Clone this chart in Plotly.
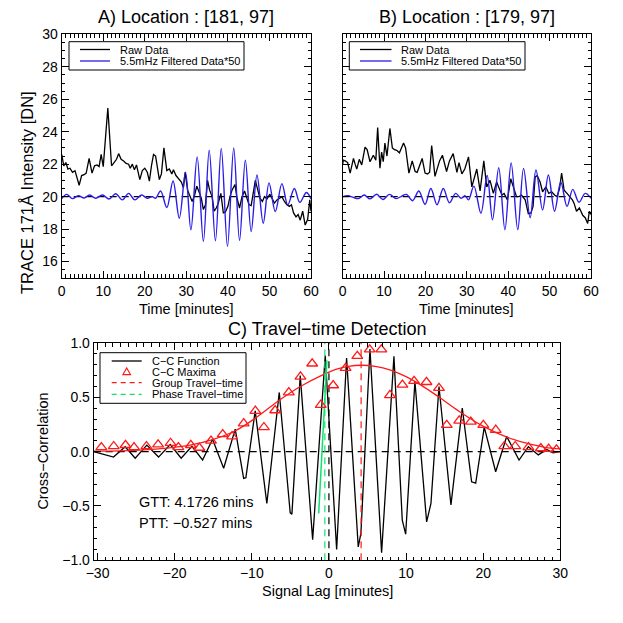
import plotly.graph_objects as go

# ---------------- Panel A data ----------------
a_raw_t = [0.0, 0.5, 1.0, 1.5, 2.0, 2.6, 3.2, 3.7, 4.2, 4.8, 5.4, 5.9, 6.6, 7.3, 7.9, 8.5, 9.0, 9.5, 10.0,
           11.1, 12.0, 12.6, 13.2, 13.7, 14.3, 14.9, 15.5, 16.1, 16.5, 17.0, 17.5, 18.0, 18.8, 19.4, 20.0,
           20.6, 21.1, 21.6, 22.1, 22.6, 23.5, 24.0, 24.6, 25.3, 25.9, 26.5, 26.9, 27.5, 28.2, 28.8, 29.3,
           29.7, 30.3, 31.0, 31.4, 32.0, 32.5, 33.2, 33.6, 34.1, 34.6, 35.1, 35.6, 36.2, 36.7, 37.2, 37.7,
           38.3, 38.9, 39.4, 40.0, 40.5, 41.0, 41.7, 42.2, 42.8, 43.4, 44.0, 44.6, 45.1, 45.6, 46.1, 46.6,
           47.2, 47.7, 48.3, 48.8, 49.4, 50.1, 50.6, 51.2, 51.8, 52.4, 53.0, 53.6, 54.2, 54.8, 55.3, 55.8,
           56.4, 56.9, 57.4, 58.0, 58.6, 59.2, 59.7, 60.0]
a_raw_v = [22.6, 21.9, 22.1, 21.7, 21.75, 21.5, 21.6, 21.2, 20.7, 21.3, 21.35, 21.45, 22.35, 21.45, 21.9, 21.95,
           21.85, 22.6, 21.85, 25.45, 21.9, 22.1, 22.3, 22.65, 22.3, 22.2, 22.05, 22.0, 21.75, 22.0, 21.65,
           21.95, 21.05, 21.6, 21.75, 21.5, 20.95, 21.9, 22.6, 22.5, 21.05, 21.4, 23.0, 21.6, 21.7, 21.4,
           21.65, 21.3, 21.05, 20.9, 20.55, 21.5, 20.4, 19.9, 19.7, 20.1, 20.65, 20.2, 19.9, 19.2, 19.5,
           21.0, 20.4, 20.0, 19.1, 19.3, 19.6, 20.2, 19.0, 19.05, 19.4, 20.0, 20.4, 20.75, 19.9, 19.3, 20.0,
           20.35, 19.8, 19.5, 19.45, 20.3, 21.0, 20.4, 19.9, 19.7, 20.0, 19.85, 20.15, 19.9, 19.6, 19.8,
           19.9, 20.0, 19.7, 19.5, 19.4, 19.5, 19.0, 18.75, 18.9, 18.55, 19.1, 18.25, 18.6, 19.8, 19.1]

a_filt_t = [0.0, 1.2, 2.6, 4.0, 5.4, 6.7, 8.2, 9.8, 11.4, 13.0, 14.6, 16.1, 17.6, 19.2, 20.6, 21.8, 22.6,
            23.8, 25.3, 26.8, 28.3, 29.8, 31.1, 32.6, 34.1, 35.5, 37.0, 38.4, 39.9, 41.4, 42.8, 44.2, 45.6,
            47.0, 48.5, 49.9, 51.4, 53.0, 54.4, 56.0, 57.3, 58.9, 60.0]
a_filt_v = [19.88, 20.14, 19.88, 20.06, 19.92, 20.1, 19.9, 20.1, 19.85, 20.18, 19.8, 20.2, 19.8, 20.1, 19.9,
            20.0, 19.9, 20.35, 19.33, 20.96, 18.67, 21.5, 17.95, 22.45, 17.24, 22.86, 17.28, 22.97, 16.93,
            23.0, 17.3, 22.25, 17.85, 21.33, 18.36, 20.85, 19.08, 20.8, 19.49, 20.5, 19.65, 20.25, 19.85]

# ---------------- Panel B data ----------------
b_raw_t = [0.0, 0.15, 0.6, 1.2, 1.8, 2.6, 3.0, 3.4, 4.0, 4.6, 5.4, 5.9, 6.6, 7.4, 8.0, 8.45, 9.0, 9.4, 9.8,
           10.2, 10.7, 11.4, 12.0, 12.5, 13.05, 13.7, 14.2, 14.7, 15.2, 16.0, 16.8, 17.5, 18.0, 18.6, 19.2,
           19.9, 20.5, 21.0, 21.5, 22.3, 22.9, 23.4, 24.1, 24.6, 25.1, 25.8, 26.7, 27.2, 27.6, 28.1, 28.8,
           29.5, 30.4, 31.2, 31.8, 32.4, 33.2, 34.1, 34.8, 35.6, 36.4, 37.2, 38.0, 38.5, 39.0, 39.8, 40.6,
           41.3, 42.0, 42.6, 43.2, 44.1, 44.85, 45.5, 46.0, 46.5, 47.0, 47.7, 48.3, 49.1, 49.8, 50.5, 51.2,
           51.8, 52.4, 52.9, 53.5, 54.2, 54.9, 55.5, 55.9, 56.5, 57.2, 58.0, 58.6, 59.2, 59.6, 60.0]
b_raw_v = [22.0, 22.25, 22.2, 22.1, 21.45, 22.35, 22.0, 21.7, 22.3, 21.95, 23.05, 22.9, 22.15, 22.55, 22.25,
           24.25, 21.75, 22.75, 22.15, 23.3, 22.5, 24.2, 23.0, 22.9, 22.85, 22.7, 23.0, 23.3, 23.0, 21.45,
           22.2, 21.55, 21.5, 22.0, 22.35, 21.45, 21.4, 21.5, 23.15, 21.25, 21.8, 22.2, 22.55, 22.0, 21.55,
           22.2, 22.65, 22.0, 21.5, 22.1, 21.4, 21.7, 22.45, 20.6, 21.2, 21.7, 20.35, 22.2, 20.6, 21.0, 20.2,
           20.9, 20.4, 20.1, 20.2, 19.8, 21.1, 20.5, 20.0, 20.0, 20.1, 19.8, 18.95, 19.0, 19.4, 21.2, 21.3,
           20.9, 20.3, 20.6, 20.2, 20.3, 20.1, 20.0, 20.5, 21.45, 20.4, 20.2, 20.0, 19.8, 19.6, 19.1, 19.3,
           18.85, 18.7, 18.35, 19.1, 18.9]

b_filt_t = [0.0, 1.3, 2.4, 3.8, 5.2, 6.6, 8.2, 9.7, 11.3, 12.9, 14.2, 15.4, 16.9, 18.4, 19.9, 21.3, 22.8,
            24.3, 25.8, 27.3, 28.6, 29.6, 30.4, 31.7, 33.4, 34.9, 36.2, 37.7, 39.2, 40.7, 42.3, 43.7, 45.3,
            46.7, 48.3, 49.7, 51.2, 52.7, 54.2, 55.6, 57.1, 58.6, 60.0]
b_filt_v = [20.0, 20.05, 19.97, 19.88, 20.1, 19.86, 20.15, 19.82, 20.14, 19.88, 20.02, 20.14, 19.75, 20.35,
            19.53, 20.5, 19.5, 20.5, 19.62, 20.2, 19.9, 20.05, 19.8, 20.65, 18.98, 21.3, 18.57, 21.78, 17.96,
            22.07, 17.96, 21.74, 18.7, 21.64, 19.18, 21.33, 19.1, 20.9, 19.4, 20.45, 19.65, 20.2, 19.9]

# ---------------- Panel C data ----------------
cc_lag = [-30.5, -27.93, -26.42, -25.12, -23.61, -22.09, -20.58, -19.16, -17.77, -16.38, -15.09, -13.65,
          -12.15, -11.06, -10.77, -9.56, -8.05, -6.44, -5.02, -4.80, -3.72, -2.11, -0.48, 1.00, 2.29, 3.80,
          4.15, 5.32, 6.83, 8.43, 9.51, 9.95, 11.15, 12.67, 13.23, 14.27, 15.82, 17.29, 18.50, 19.03, 20.14,
          21.62, 23.05, 24.65, 25.86, 27.15, 28.24, 29.06, 30.0]
cc_val = [0.0, -0.05, 0.045, -0.06, 0.06, -0.05, 0.065, -0.06, 0.05, -0.077, 0.115, -0.153, 0.207, -0.246,
          -0.24, 0.376, -0.477, 0.545, -0.563, -0.575, 0.70, -0.81, 0.884, -0.90, 0.862, -0.877, -0.75, 0.945,
          -0.93, 0.877, -0.63, -0.76, 0.646, -0.646, -0.477, 0.60, -0.49, 0.40, -0.277, -0.29, 0.225, -0.185,
          0.14, -0.077, 0.046, -0.03, 0.02, -0.01, 0.0]

max_lag = [-29.51, -27.90, -26.38, -25.27, -23.66, -22.15, -20.53, -19.52, -17.91, -16.80, -15.29, -13.77,
           -12.56, -11.05, -9.54, -8.43, -6.97, -5.20, -3.69, -2.17, -1.06, 0.55, 2.16, 3.68, 5.29, 6.80,
           7.91, 9.53, 11.04, 12.65, 14.27, 15.28, 16.89, 18.40, 20.02, 21.63, 22.74, 24.15, 25.87, 27.48,
           28.49, 29.50]
max_val = [0.04, 0.05, 0.06, 0.04, 0.05, 0.065, 0.08, 0.04, 0.06, 0.035, 0.10, 0.16, 0.14, 0.26, 0.375,
           0.225, 0.38, 0.545, 0.69, 0.81, 0.43, 0.61, 0.77, 0.88, 0.94, 0.94, 0.52, 0.615, 0.65, 0.64,
           0.585, 0.245, 0.285, 0.275, 0.245, 0.20, 0.05, 0.05, 0.04, 0.03, 0.025, 0.02]

env_lag = [-30.5, -27, -24, -21, -18, -15.2, -12.2, -9.5, -6.3, -3.7, -1, 1, 2.5, 4.2, 6, 8, 10, 12, 14.3,
           16.9, 20.1, 23, 25.5, 28, 30]
env_val = [0.005, 0.008, 0.016, 0.033, 0.06, 0.108, 0.19, 0.31, 0.48, 0.60, 0.70, 0.76, 0.785, 0.795, 0.785,
           0.75, 0.69, 0.61, 0.50, 0.37, 0.23, 0.135, 0.08, 0.04, 0.025]

fit_lag = [-1.33, -0.81, -0.26]
fit_val = [-0.57, 0.14, 0.84]

GTT = 4.1726
PTT = -0.527

legend_ab = ["Raw Data", "5.5mHz Filtered Data*50"]
legend_c = ["C−C Function", "C−C Maxima", "Group Travel−time", "Phase Travel−time"]

BLACK = "#000000"
BLUE = "#2a1ce8"
RED = "#ff1a1a"
GREEN = "#10e070"
DASH = "7px,5px"
FONT = "Liberation Sans, Arial, Helvetica, sans-serif"

fig = go.Figure()

# Panel A
fig.add_trace(go.Scatter(x=[0, 56], y=[20, 20], mode="lines", line=dict(color=BLACK, width=1.2, dash=DASH),
                         xaxis="x", yaxis="y", hoverinfo="skip"))
fig.add_trace(go.Scatter(x=a_raw_t, y=a_raw_v, mode="lines", name=legend_ab[0], line=dict(color=BLACK, width=1.3),
                         xaxis="x", yaxis="y"))
fig.add_trace(go.Scatter(x=a_filt_t, y=a_filt_v, mode="lines", name=legend_ab[1],
                         line=dict(color=BLUE, width=1.4, shape="spline", smoothing=1.0),
                         xaxis="x", yaxis="y"))
# Panel B
fig.add_trace(go.Scatter(x=[0, 54], y=[20, 20], mode="lines", line=dict(color=BLACK, width=1.2, dash=DASH),
                         xaxis="x2", yaxis="y2", hoverinfo="skip"))
fig.add_trace(go.Scatter(x=b_raw_t, y=b_raw_v, mode="lines", name=legend_ab[0], line=dict(color=BLACK, width=1.3),
                         xaxis="x2", yaxis="y2"))
fig.add_trace(go.Scatter(x=b_filt_t, y=b_filt_v, mode="lines", name=legend_ab[1],
                         line=dict(color=BLUE, width=1.4, shape="spline", smoothing=1.0),
                         xaxis="x2", yaxis="y2"))
# Panel C
fig.add_trace(go.Scatter(x=[-30.5, 30], y=[0, 0], mode="lines", line=dict(color=BLACK, width=1.2, dash=DASH),
                         xaxis="x3", yaxis="y3", hoverinfo="skip"))
fig.add_trace(go.Scatter(x=[0, 0], y=[-1, 1], mode="lines", line=dict(color=BLACK, width=1.2, dash=DASH),
                         xaxis="x3", yaxis="y3", hoverinfo="skip"))
fig.add_trace(go.Scatter(x=cc_lag, y=cc_val, mode="lines", name=legend_c[0],
                         line=dict(color=BLACK, width=1.3), xaxis="x3", yaxis="y3"))
fig.add_trace(go.Scatter(x=env_lag, y=env_val, mode="lines", line=dict(color=RED, width=1.3, shape="spline"),
                         xaxis="x3", yaxis="y3"))
fig.add_trace(go.Scatter(x=fit_lag, y=fit_val, mode="lines", line=dict(color=GREEN, width=1.5),
                         xaxis="x3", yaxis="y3"))
fig.add_trace(go.Scatter(x=max_lag, y=max_val, mode="markers", name=legend_c[1],
                         marker=dict(symbol="triangle-up-open", size=9.5, color=RED, line=dict(width=1.3, color=RED)),
                         xaxis="x3", yaxis="y3"))
fig.add_trace(go.Scatter(x=[GTT, GTT], y=[-1, 1], mode="lines", name=legend_c[2],
                         line=dict(color=RED, width=1.2, dash=DASH), xaxis="x3", yaxis="y3"))
fig.add_trace(go.Scatter(x=[PTT, PTT], y=[-1, 1], mode="lines", name=legend_c[3],
                         line=dict(color=GREEN, width=1.2, dash=DASH), xaxis="x3", yaxis="y3"))

# The page body has an 8px margin, so the figure is offset by (8, 8) on screen.
OFF = 8.0
W = H = 615.0


def px(x):
    return (x - OFF) / W


def py(y):
    return 1 - (y - OFF) / H


axis_common = dict(showline=True, linecolor=BLACK, linewidth=1, mirror="allticks", ticks="inside",
                   ticklen=7, tickwidth=1, tickcolor=BLACK, showgrid=False, zeroline=False,
                   tickfont=dict(family=FONT, size=14, color=BLACK))

fig.update_layout(
    width=int(W), height=int(H), margin=dict(l=0, r=0, t=0, b=0, pad=0, autoexpand=False),
    paper_bgcolor="white", plot_bgcolor="white",
    font=dict(family=FONT, color=BLACK),
    showlegend=False,
    xaxis=dict(domain=[px(61.7), px(311)], range=[0, 60], anchor="y", dtick=10, tick0=0,
               minor=dict(ticks="inside", ticklen=3.5, dtick=1, tickcolor=BLACK), **axis_common),
    yaxis=dict(domain=[py(277.8), py(34.3)], range=[15, 30], anchor="x", dtick=2, tick0=16,
               minor=dict(ticks="inside", ticklen=3.5, dtick=0.5, tickcolor=BLACK), **axis_common),
    xaxis2=dict(domain=[px(342.7), px(591)], range=[0, 60], anchor="y2", dtick=10, tick0=0,
                minor=dict(ticks="inside", ticklen=3.5, dtick=1, tickcolor=BLACK), **axis_common),
    yaxis2=dict(domain=[py(277.8), py(34.3)], range=[15, 30], anchor="x2", dtick=2, tick0=16,
                showticklabels=False,
                minor=dict(ticks="inside", ticklen=3.5, dtick=0.5, tickcolor=BLACK), **axis_common),
    xaxis3=dict(domain=[px(93.7), px(560.3)], range=[-30.5, 30], anchor="y3", dtick=10, tick0=0,
                minor=dict(ticks="inside", ticklen=3.5, dtick=1, tickcolor=BLACK), **axis_common),
    yaxis3=dict(domain=[py(560.3), py(343)], range=[-1, 1], anchor="x3", dtick=0.5, tick0=0,
                tickformat=".1f",
                minor=dict(ticks="inside", ticklen=3.5, dtick=0.1, tickcolor=BLACK), **axis_common),
)

ann = []
shapes = []


def text(x, y, s, size, angle=0, xanchor="center"):
    ann.append(dict(x=px(x), y=py(y), xref="paper", yref="paper", text=s, showarrow=False,
                    font=dict(family=FONT, size=size, color=BLACK), textangle=angle,
                    xanchor=xanchor, yanchor="middle"))


def box(x0, y0, x1, y1):
    shapes.append(dict(type="rect", xref="paper", yref="paper", x0=px(x0), x1=px(x1), y0=py(y1), y1=py(y0),
                       line=dict(color=BLACK, width=1), fillcolor="white", layer="above"))


def seg(x0, x1, y, color, dash="solid"):
    shapes.append(dict(type="line", xref="paper", yref="paper", x0=px(x0), x1=px(x1), y0=py(y), y1=py(y),
                       line=dict(color=color, width=1.3, dash=dash), layer="above"))


def tri(xc, yc, s, color):
    path = "M {:.5f},{:.5f} L {:.5f},{:.5f} L {:.5f},{:.5f} Z".format(
        px(xc - s / 2), py(yc + s * 0.38), px(xc + s / 2), py(yc + s * 0.38), px(xc), py(yc - s * 0.5))
    shapes.append(dict(type="path", xref="paper", yref="paper", path=path,
                       line=dict(color=color, width=1.2), layer="above"))


# Legend A
box(69, 41.7, 244, 70)
seg(80, 110, 49.5, BLACK)
seg(80, 110, 61, BLUE)
text(118, 49.5, legend_ab[0], 11, xanchor="left")
text(118, 61, legend_ab[1], 11, xanchor="left")
# Legend B
box(349.3, 41.7, 525, 70)
seg(360, 391.5, 49.5, BLACK)
seg(360, 391.5, 61, BLUE)
text(399.3, 49.5, legend_ab[0], 11, xanchor="left")
text(399.3, 61, legend_ab[1], 11, xanchor="left")
# Legend C
box(100, 352.7, 246, 403.3)
seg(111.7, 141.7, 361, BLACK)
tri(126.7, 371.7, 7.5, RED)
seg(111.7, 141.7, 382.7, RED, dash="5px,4px")
seg(111.7, 141.7, 394.3, GREEN, dash="5px,4px")
text(150, 361, legend_c[0], 11, xanchor="left")
text(150, 371.9, legend_c[1], 11, xanchor="left")
text(150, 382.9, legend_c[2], 11, xanchor="left")
text(150, 394.3, legend_c[3], 11, xanchor="left")

text(186.3, 17, "A) Location : [181, 97]", 18)
text(466.9, 17, "B) Location : [179, 97]", 18)
text(327, 329, "C) Travel−time Detection", 18)
text(186.3, 309, "Time [minutes]", 14.5)
text(466.9, 309, "Time [minutes]", 14.5)
text(327, 591, "Signal Lag [minutes]", 14.5)
text(43, 451.6, "Cross−Correlation", 14.5, angle=-90)
text(27, 193, "TRACE 171Å Intensity [DN]", 16.5, angle=-90)
text(137, 502, "GTT: 4.1726 mins", 14.5, xanchor="left")
text(137, 522.5, "PTT: −0.527 mins", 14.5, xanchor="left")

fig.update_layout(annotations=ann, shapes=shapes)

fig.write_html("out.html")
